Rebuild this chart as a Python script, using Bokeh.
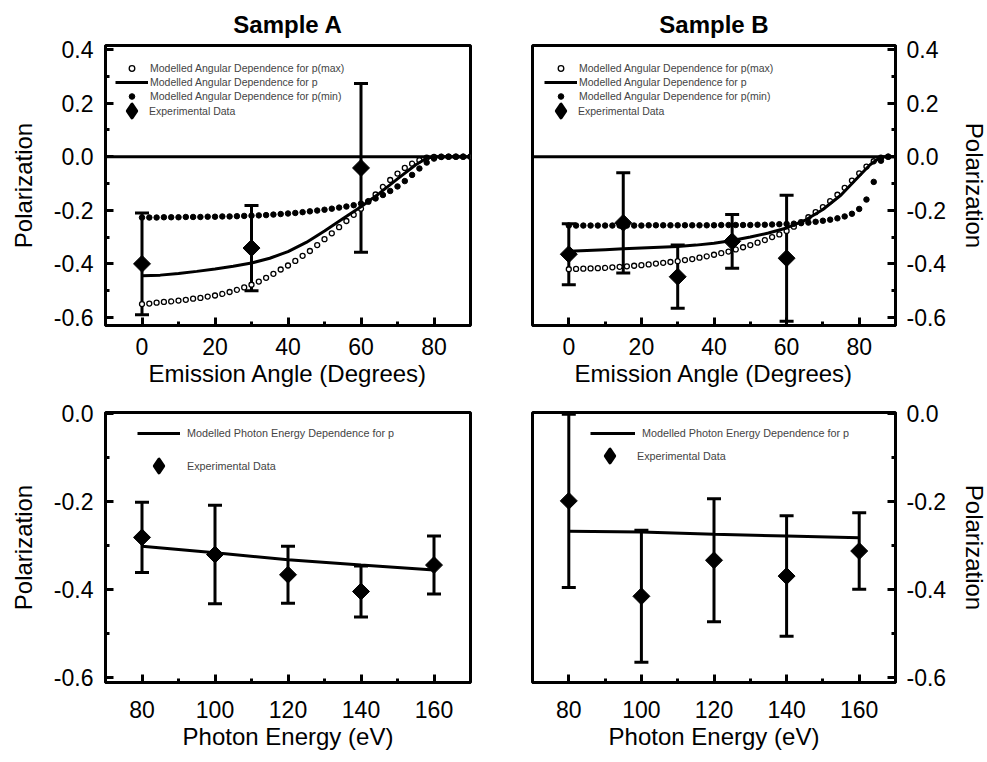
import numpy as np
from bokeh.plotting import figure
from bokeh.models import (Range1d, FixedTicker, PrintfTickFormatter, Span, Whisker, TeeHead,
                          ColumnDataSource, Legend, LegendItem)
from bokeh.layouts import column, row
from bokeh.embed import file_html
from bokeh.resources import INLINE

FONT = "Liberation Sans"

# ---------------- Data: angular dependence ----------------
model_angles_dots = [0, 2, 4, 6, 8, 10, 12, 14, 16, 18, 20, 22, 24, 26, 28, 30, 32, 34, 36, 38, 40,
                     42, 44, 46, 48, 50, 52, 54, 56, 58, 60, 62, 64, 66, 68, 70, 72, 74, 76, 78, 80,
                     82, 84, 86, 88, 90]
model_angles_line_a = [0, 5, 10, 15, 20, 25, 30, 35, 40, 45, 50, 55, 60, 65, 70, 75, 78, 80, 85, 90]
model_angles_line_b = [0, 5, 10, 15, 20, 25, 30, 35, 40, 45, 50, 55, 60, 65, 70, 75, 80, 83, 86, 90]

a_pmax = [-0.550, -0.548, -0.545, -0.542, -0.540, -0.537, -0.534, -0.530, -0.527, -0.522, -0.518,
          -0.512, -0.505, -0.497, -0.488, -0.478, -0.466, -0.452, -0.437, -0.421, -0.406,
          -0.389, -0.370, -0.352, -0.330, -0.308, -0.286, -0.263, -0.240, -0.217, -0.194,
          -0.168, -0.141, -0.113, -0.087, -0.063, -0.042, -0.026, -0.013, -0.004, -0.001,
          0.0, 0.0, 0.0, 0.0, 0.0]
a_p = [-0.444, -0.442, -0.436, -0.428, -0.419, -0.409, -0.397, -0.379, -0.354, -0.320,
       -0.277, -0.232, -0.187, -0.137, -0.083, -0.030, -0.006, 0.0, 0.0, 0.0]
a_pmin = [-0.227, -0.227, -0.227, -0.226, -0.226, -0.226, -0.225, -0.225, -0.225, -0.224, -0.224,
          -0.223, -0.223, -0.222, -0.221, -0.220, -0.219, -0.218, -0.216, -0.214, -0.212,
          -0.210, -0.207, -0.204, -0.201, -0.198, -0.194, -0.190, -0.186, -0.181, -0.175,
          -0.166, -0.156, -0.143, -0.128, -0.111, -0.091, -0.068, -0.044, -0.022, -0.007,
          -0.001, 0.0, 0.0, 0.0, 0.0]
a_exp_angle = [0, 30, 60]
a_exp_pol = [-0.400, -0.341, -0.042]
a_exp_err = [0.190, 0.159, 0.315]

b_pmax = [-0.420, -0.419, -0.418, -0.417, -0.416, -0.415, -0.413, -0.411, -0.409, -0.407, -0.405,
          -0.402, -0.399, -0.396, -0.393, -0.390, -0.386, -0.382, -0.377, -0.372, -0.366,
          -0.360, -0.354, -0.346, -0.338, -0.330, -0.321, -0.311, -0.300, -0.290, -0.277,
          -0.261, -0.244, -0.226, -0.207, -0.188, -0.166, -0.142, -0.116, -0.089, -0.062,
          -0.037, -0.017, -0.004, 0.0]
b_p = [-0.353, -0.350, -0.347, -0.344, -0.341, -0.338, -0.335, -0.330, -0.323, -0.313,
       -0.300, -0.285, -0.266, -0.238, -0.197, -0.143, -0.072, -0.030, 0.0, 0.0]
b_pmin = [-0.257, -0.257, -0.257, -0.257, -0.257, -0.257, -0.257, -0.257, -0.257, -0.257, -0.257,
          -0.256, -0.256, -0.256, -0.256, -0.256, -0.256, -0.256, -0.256, -0.256, -0.256,
          -0.255, -0.255, -0.255, -0.255, -0.255, -0.254, -0.254, -0.253, -0.252, -0.251,
          -0.250, -0.248, -0.246, -0.243, -0.239, -0.235, -0.230, -0.223, -0.213, -0.195,
          -0.160, -0.094, -0.015, 0.0]
b_exp_angle = [0, 15, 30, 45, 60]
b_exp_pol = [-0.364, -0.247, -0.448, -0.316, -0.379]
b_exp_err = [0.114, 0.187, 0.118, 0.100, 0.235]

# ---------------- Data: photon energy dependence ----------------
energies = [80, 100, 120, 140, 160]
a_e_model = [-0.302, -0.317, -0.333, -0.345, -0.356]
a_e_pol = [-0.282, -0.321, -0.367, -0.405, -0.345]
a_e_err = [0.080, 0.112, 0.065, 0.058, 0.066]
b_e_model = [-0.268, -0.270, -0.275, -0.279, -0.283]
b_e_pol = [-0.199, -0.416, -0.334, -0.370, -0.313]
b_e_err = [0.197, 0.150, 0.140, 0.137, 0.087]

y_ticks_top = [-0.6, -0.4, -0.2, 0.0, 0.2, 0.4]
y_minor_top = [-0.5, -0.3, -0.1, 0.1, 0.3]
y_ticks_bot = [-0.6, -0.4, -0.2, 0.0]
y_minor_bot = [-0.5, -0.3, -0.1]
x_ticks_top = [0, 20, 40, 60, 80]
x_minor_top = [10, 30, 50, 70]
x_ticks_bot = [80, 100, 120, 140, 160]
x_minor_bot = [90, 110, 130, 150]


def style_axis(ax, standoff, label_standoff):
    ax.axis_line_width = 3
    ax.axis_line_color = "black"
    ax.major_tick_in = 8
    ax.major_tick_out = 0
    ax.minor_tick_in = 4
    ax.minor_tick_out = 0
    ax.major_tick_line_width = 3
    ax.minor_tick_line_width = 3
    ax.major_tick_line_color = "black"
    ax.minor_tick_line_color = "black"
    ax.major_label_text_font = FONT
    ax.major_label_text_font_size = "23px"
    ax.major_label_text_color = "black"
    ax.major_label_standoff = standoff
    ax.axis_label_text_font = FONT
    ax.axis_label_text_font_size = "24px"
    ax.axis_label_text_font_style = "normal"
    ax.axis_label_text_color = "black"
    ax.axis_label_standoff = label_standoff


def make_fig(xr, yr, side, fw, fh, bl, br, bt, bb, xt, xm, yt, ym, xlabel, title=None,
             xstand=12, xlstand=2):
    kw = {}
    if title:
        kw["title"] = title
    p = figure(frame_width=fw, frame_height=fh, x_range=Range1d(*xr), y_range=Range1d(*yr),
               y_axis_location=side, toolbar_location=None, output_backend="svg",
               min_border_left=bl, min_border_right=br, min_border_top=bt, min_border_bottom=bb,
               background_fill_color="white", border_fill_color="white", **kw)
    p.xgrid.visible = False
    p.ygrid.visible = False
    p.outline_line_color = "black"
    p.outline_line_width = 3
    p.outline_line_alpha = 1.0
    p.xaxis.ticker = FixedTicker(ticks=xt, minor_ticks=xm)
    p.yaxis.ticker = FixedTicker(ticks=yt, minor_ticks=ym)
    p.xaxis.formatter = PrintfTickFormatter(format="%d")
    p.yaxis.formatter = PrintfTickFormatter(format="%.1f")
    p.xaxis.axis_label = xlabel
    p.yaxis.axis_label = "Polarization"
    for ax in p.xaxis:
        style_axis(ax, xstand, xlstand)
    for ax in p.yaxis:
        if side == "left":
            style_axis(ax, 12, 14)
        else:
            style_axis(ax, 11, 12)
    if title:
        p.title.align = "center"
        p.title.text_font = FONT
        p.title.text_font_size = "24px"
        p.title.text_font_style = "bold"
        p.title.text_color = "black"
        p.title.vertical_align = "middle"
        p.title.standoff = 14
    return p


def add_errorbars(p, xs, ys, errs):
    up = [y + e for y, e in zip(ys, errs)]
    lo = [y - e for y, e in zip(ys, errs)]
    src = ColumnDataSource(dict(x=xs, y=ys, upper=up, lower=lo))
    w = Whisker(source=src, base="x", upper="upper", lower="lower", dimension="height",
                line_width=3, line_color="black",
                upper_head=TeeHead(size=14, line_width=3, line_color="black"),
                lower_head=TeeHead(size=14, line_width=3, line_color="black"))
    p.add_layout(w)
    p.scatter(x="x", y="y", source=src, marker="square", angle=np.pi / 4, size=12,
              fill_color="black", line_color="black")
    # legend proxy (diamond symbol for the legend only; has no visible data point)
    proxy = p.scatter(x=[float("nan")], y=[float("nan")], marker="diamond", size=12,
                      fill_color="black", line_color="black", line_width=3.5,
                      line_join="round")
    return proxy


def legend(items, loc, gw, gh, spacing, standoff, fs="10.5px"):
    return Legend(items=items, location=loc, glyph_width=gw, glyph_height=gh, label_height=14,
                  spacing=spacing, padding=0, margin=0, label_standoff=standoff,
                  label_text_font=FONT, label_text_font_size=fs,
                  border_line_color=None, background_fill_alpha=0)


def angular_panel(side, pmax, pline, pline_angles, pmin, ex, ey, ee, title, bl, br, fw, legx,
                  ndots):
    p = make_fig((-10, 90), (-0.63, 0.415), side, fw, 280, bl, br, 45, 60,
                 x_ticks_top, x_minor_top, y_ticks_top, y_minor_top,
                 "Emission Angle (Degrees)", title=title)
    p.add_layout(Span(location=0, dimension="width", line_color="black", line_width=3))
    ang = model_angles_dots[:ndots]
    r_max = p.scatter(ang, pmax, marker="circle", size=5, fill_color="white",
                      line_color="black", line_width=1.3)
    r_line = p.line(pline_angles, pline, line_color="black", line_width=3)
    r_min = p.scatter(ang, pmin, marker="circle", size=5.5, fill_color="black",
                      line_color="black")
    r_exp = add_errorbars(p, ex, ey, ee)
    p.add_layout(legend([
        LegendItem(label="Modelled Angular Dependence for p(max)", renderers=[r_max]),
        LegendItem(label="Modelled Angular Dependence for p", renderers=[r_line]),
        LegendItem(label="Modelled Angular Dependence for p(min)", renderers=[r_min]),
    ], (legx, 222), 33, 14, 0, 2))
    p.add_layout(legend([
        LegendItem(label="Experimental Data", renderers=[r_exp]),
    ], (legx, 198), 33, 33, 0, 1))
    return p


def energy_panel(side, model, ey, ee, bl, br, fw, lx1, gw, lx2, ly2, st2):
    p = make_fig((70, 170), (-0.612, 0.002), side, fw, 270, bl, br, 23, 80,
                 x_ticks_bot, x_minor_bot, y_ticks_bot, y_minor_bot,
                 "Photon Energy (eV)", xstand=18, xlstand=2)
    r_line = p.line(energies, model, line_color="black", line_width=3)
    r_exp = add_errorbars(p, energies, ey, ee)
    p.add_layout(legend([
        LegendItem(label="Modelled Photon Energy Dependence for p", renderers=[r_line]),
    ], (lx1, 242), gw, 14, 0, 7, "10.8px"))
    p.add_layout(legend([
        LegendItem(label="Experimental Data", renderers=[r_exp]),
    ], (lx2, ly2), 33, 33, 0, st2, "10.8px"))
    return p


tl = angular_panel("left", a_pmax, a_p, model_angles_line_a, a_pmin, a_exp_angle, a_exp_pol,
                   a_exp_err, "Sample A", 105, 30, 365, 10, 46)
tr = angular_panel("right", b_pmax, b_p, model_angles_line_b, b_pmin, b_exp_angle, b_exp_pol,
                   b_exp_err, "Sample B", 32, 92, 363, 12, 45)
bl = energy_panel("left", a_e_model, a_e_pol, a_e_err, 105, 30, 365, 32, 43, 37, 200, 12)
br = energy_panel("right", b_e_model, b_e_pol, b_e_err, 32, 92, 363, 58, 45, 61, 210, 11)

layout = column(row(tl, tr), row(bl, br))
open("out.html", "w").write(file_html(layout, INLINE))
